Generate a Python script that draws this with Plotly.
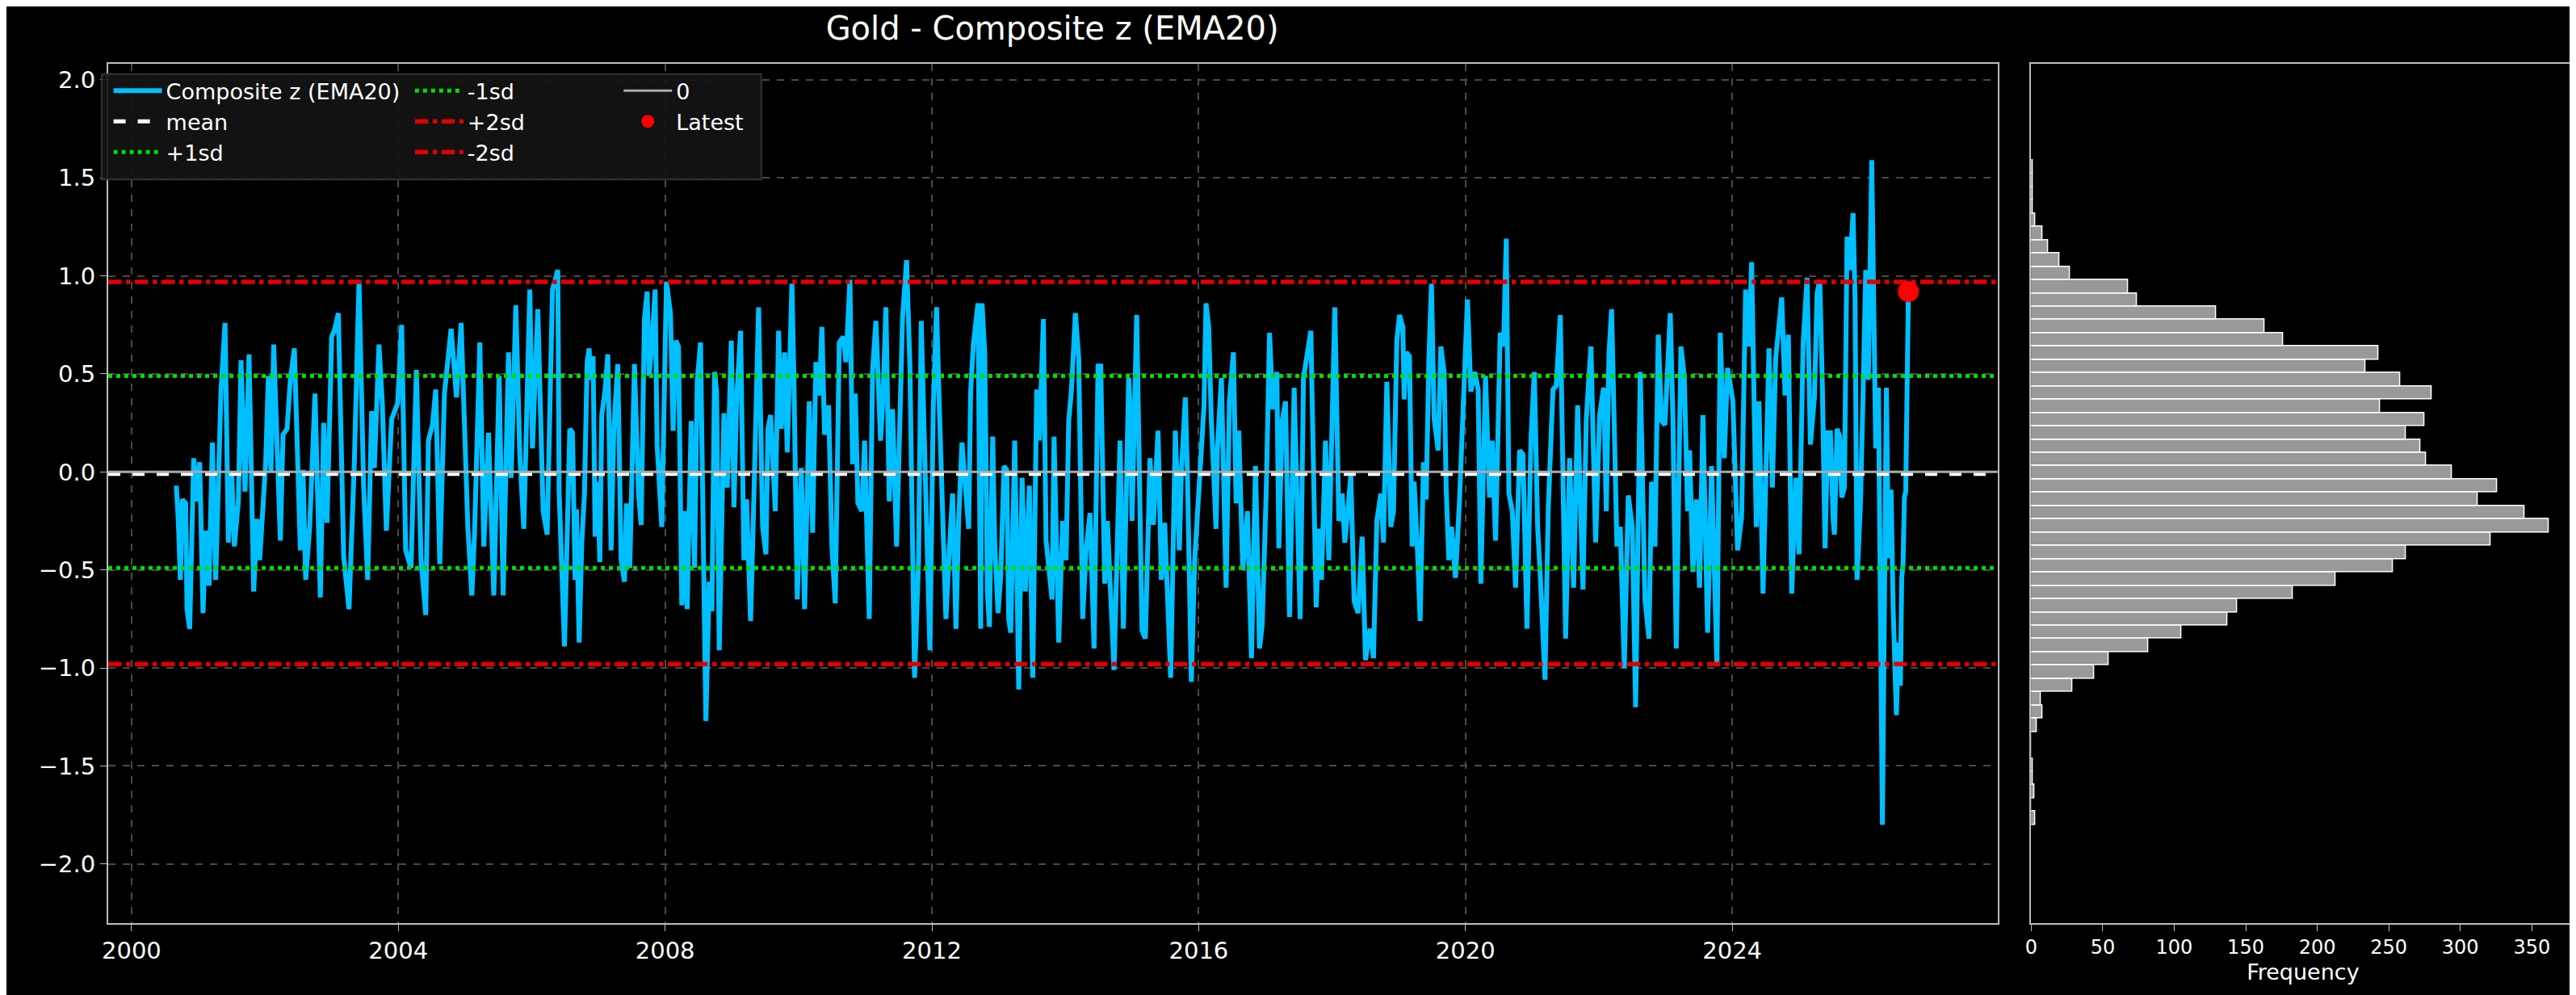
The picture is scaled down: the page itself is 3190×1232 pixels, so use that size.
import numpy as np
import pandas as pd
import plotly.graph_objects as go

# ---------------- data ----------------
years_a = [2000.67,2000.70,2000.73,2000.76,2000.81,2000.83,2000.87,2000.93,2000.98,2001.02,2001.07,2001.11,2001.16,2001.21,2001.26,2001.34,2001.40,2001.45,2001.50,2001.54,2001.60,2001.64,2001.70,2001.76,2001.83,2001.88,2001.92,2002.01,2002.05,2002.09,2002.13,2002.23,2002.27,2002.33,2002.38,2002.44,2002.53,2002.57,2002.61,2002.67,2002.75,2002.83,2002.88,2002.93,2003.00,2003.04,2003.10,2003.18,2003.26,2003.34,2003.41,2003.48,2003.54,2003.60,2003.64,2003.71,2003.76,2003.82,2003.90,2003.99,2004.05,2004.11,2004.19,2004.27,2004.34,2004.41,2004.45,2004.51,2004.56,2004.62,2004.69,2004.79,2004.87,2004.94,2005.04,2005.10,2005.14,2005.22,2005.28,2005.35,2005.43,2005.51,2005.57,2005.65,2005.69,2005.76,2005.82,2005.88,2005.97,2006.01,2006.09,2006.17,2006.23,2006.31,2006.39,2006.41,2006.49]
z_a = [-0.07,-0.25,-0.55,-0.14,-0.16,-0.70,-0.80,0.07,-0.15,0.05,-0.72,-0.30,-0.58,0.15,-0.55,0.42,0.76,-0.36,0.00,-0.38,-0.15,0.57,-0.10,0.60,-0.61,-0.24,-0.45,0.05,0.49,0.00,0.65,-0.35,0.19,0.22,0.47,0.63,-0.40,0.01,-0.55,-0.28,0.40,-0.64,0.25,-0.26,0.69,0.72,0.81,-0.43,-0.70,0.05,0.97,-0.08,-0.55,0.31,0.02,0.65,0.35,-0.30,0.27,0.35,0.75,-0.40,-0.49,0.52,-0.45,-0.73,0.16,0.24,0.42,-0.47,0.40,0.73,0.38,0.76,-0.28,-0.63,-0.32,0.66,-0.38,0.20,-0.63,0.49,-0.63,0.61,-0.03,0.85,0.09,-0.29,0.93,0.12,0.83,-0.20,-0.32,0.93,1.03,-0.10,-0.89]
years_b = [2006.57,2006.61,2006.65,2006.67,2006.71,2006.75,2006.79,2006.83,2006.86,2006.88,2006.92,2006.95,2006.99,2007.02,2007.05,2007.10,2007.14,2007.19,2007.23,2007.29,2007.34,2007.39,2007.42,2007.47,2007.54,2007.60,2007.64,2007.69,2007.73,2007.76,2007.80,2007.85,2007.88,2007.95,2008.02,2008.08,2008.12,2008.16,2008.20,2008.25,2008.30,2008.33,2008.39,2008.44,2008.48,2008.53,2008.61,2008.66,2008.70,2008.74,2008.77,2008.81,2008.88,2008.93,2008.99,2009.03,2009.07,2009.13,2009.18,2009.22,2009.28,2009.32,2009.40,2009.46,2009.51,2009.54,2009.58,2009.65,2009.70,2009.74,2009.79,2009.83,2009.87,2009.90,2009.93,2009.98,2010.04,2010.09,2010.16,2010.21,2010.26,2010.31,2010.35,2010.39,2010.45,2010.50,2010.55,2010.61,2010.67,2010.71,2010.77,2010.81,2010.85,2010.89,2010.95,2010.99,2011.06,2011.11,2011.16,2011.23,2011.27,2011.31,2011.36,2011.41,2011.47,2011.56,2011.62,2011.67,2011.74,2011.80,2011.84,2011.90,2011.97,2012.02,2012.07,2012.11,2012.16,2012.21,2012.26,2012.31,2012.36,2012.40,2012.45,2012.55,2012.58,2012.62,2012.69,2012.71,2012.73]
z_b = [0.22,0.20,-0.55,-0.19,-0.87,-0.36,-0.11,0.56,0.63,0.47,0.59,-0.33,-0.05,-0.46,0.29,0.42,0.60,-0.40,0.22,0.55,-0.45,-0.56,-0.16,-0.49,0.55,-0.11,-0.27,0.78,0.92,0.49,0.64,0.93,0.14,-0.28,0.97,0.81,0.21,0.67,0.64,-0.68,-0.20,-0.70,0.26,-0.49,0.46,0.66,-1.27,-0.56,-0.71,0.51,0.41,-0.91,0.30,-0.08,0.67,-0.18,0.37,0.72,-0.45,-0.14,-0.76,-0.25,0.84,-0.28,-0.42,0.22,0.29,-0.20,0.72,0.22,0.61,0.10,0.59,0.96,0.47,-0.65,0.02,-0.70,0.36,-0.31,0.56,0.39,0.74,0.19,0.34,-0.38,-0.67,0.66,0.69,0.56,0.98,0.04,0.40,-0.16,-0.20,0.16,-0.75,0.52,0.77,0.16,0.41,0.84,-0.15,0.32,-0.38,0.79,1.08,0.54,-1.05,-0.45,0.77,-0.08,-0.91,0.32,0.84,0.34,-0.28,-0.75,-0.40,-0.11,-0.80,-0.25,0.15,-0.29,0.41,0.65,0.86,0.22,-0.80]
years_c = [2012.75,2012.79,2012.81,2012.83,2012.86,2012.91,2012.94,2012.99,2013.03,2013.08,2013.12,2013.15,2013.18,2013.24,2013.27,2013.30,2013.35,2013.40,2013.46,2013.51,2013.57,2013.61,2013.67,2013.71,2013.80,2013.83,2013.90,2013.96,2014.01,2014.05,2014.09,2014.15,2014.20,2014.26,2014.31,2014.37,2014.43,2014.49,2014.53,2014.59,2014.63,2014.67,2014.73,2014.82,2014.87,2014.95,2014.98,2015.00,2015.07,2015.15,2015.20,2015.27,2015.32,2015.39,2015.44,2015.49,2015.54,2015.58,2015.65,2015.71,2015.74,2015.80,2015.83,2015.89,2015.94,2015.99,2016.05,2016.08,2016.11,2016.15,2016.19,2016.26,2016.28,2016.34,2016.41,2016.46,2016.52,2016.56,2016.60,2016.66,2016.73,2016.79,2016.85,2016.91,2016.95,2017.01,2017.06,2017.11,2017.17,2017.20,2017.25,2017.30,2017.36,2017.43,2017.52,2017.57,2017.63,2017.68,2017.76,2017.80,2017.84,2017.90,2017.95,2018.00,2018.04,2018.10,2018.15,2018.19,2018.28,2018.33,2018.39,2018.45,2018.50,2018.57,2018.62,2018.67,2018.73,2018.77,2018.82,2018.88,2018.92,2018.97]
z_c = [0.86,0.61,0.06,-0.61,-0.79,0.18,-0.36,-0.72,-0.53,0.03,0.01,-0.75,-0.82,0.16,-0.45,-1.11,-0.03,-0.61,-0.07,-1.05,0.42,0.16,0.78,-0.35,-0.65,0.18,-0.87,-0.25,-0.45,0.26,0.41,0.81,0.58,-0.75,-0.40,-0.21,-0.90,0.54,0.54,-0.57,-0.25,-0.60,-1.01,0.16,-0.80,0.48,0.26,-0.25,0.80,-0.81,-0.85,0.07,-0.27,0.21,-0.55,-0.26,-0.65,-1.05,0.21,-0.40,0.00,0.38,0.00,-1.07,-0.45,-0.18,0.10,0.34,0.86,0.74,0.26,-0.29,0.12,0.48,-0.59,0.36,0.61,-0.16,0.21,-0.50,-0.20,-0.95,0.03,-0.90,-0.78,-0.11,0.71,0.32,0.51,-0.39,0.26,0.36,-0.74,0.43,-0.75,0.48,0.61,0.72,-0.69,-0.29,-0.55,0.16,-0.45,0.19,0.84,-0.25,-0.11,-0.36,-0.02,-0.66,-0.72,-0.33,-0.96,-0.80,-0.95,-0.25,-0.11,-0.36,0.46,-0.28,-0.20,0.67]
years_d = [2019.01,2019.06,2019.08,2019.11,2019.16,2019.20,2019.23,2019.28,2019.32,2019.37,2019.41,2019.45,2019.49,2019.53,2019.59,2019.63,2019.68,2019.71,2019.75,2019.79,2019.85,2019.91,2019.96,2020.03,2020.08,2020.14,2020.19,2020.23,2020.30,2020.36,2020.40,2020.45,2020.52,2020.57,2020.61,2020.65,2020.70,2020.75,2020.81,2020.86,2020.92,2020.98,2021.03,2021.08,2021.12,2021.19,2021.24,2021.31,2021.36,2021.42,2021.50,2021.56,2021.62,2021.68,2021.76,2021.81,2021.88,2021.95,2022.01,2022.07,2022.11,2022.15,2022.19,2022.27,2022.32,2022.38,2022.44,2022.50,2022.55,2022.62,2022.69,2022.75,2022.79,2022.84,2022.89,2022.94,2022.99,2023.07,2023.11,2023.16,2023.23,2023.28,2023.33,2023.36,2023.41,2023.46,2023.51,2023.56,2023.63,2023.69,2023.77,2023.82,2023.88,2023.93,2024.01,2024.08,2024.14,2024.20,2024.25,2024.29,2024.36,2024.40,2024.46,2024.55,2024.60,2024.65,2024.74,2024.79,2024.84,2024.89,2024.95,2025.00,2025.06,2025.12,2025.17]
z_d = [0.80,0.74,0.37,0.61,0.59,-0.38,-0.05,-0.40,-0.76,0.05,-0.14,0.56,0.96,0.27,0.11,0.64,0.51,-0.08,-0.45,-0.28,-0.54,-0.15,0.26,0.88,0.41,0.51,0.42,-0.57,0.49,-0.13,0.16,-0.35,0.71,0.64,1.19,-0.11,-0.20,-0.59,0.11,0.09,-0.80,0.17,0.51,-0.28,-0.53,-1.06,-0.18,0.42,0.44,0.80,-0.85,0.07,-0.59,0.34,-0.60,0.27,0.64,-0.36,0.29,0.43,-0.20,0.60,0.83,-0.38,-0.28,-1.00,-0.12,-0.28,-1.20,0.51,-0.65,-0.85,-0.05,-0.38,0.70,0.26,0.24,0.81,0.27,-0.90,0.64,0.49,-0.20,0.11,-0.51,-0.14,-0.59,0.29,-0.82,0.03,-0.99,0.71,0.07,0.53,0.36,-0.40,-0.23,0.93,0.64,1.07,-0.28,0.36,-0.62,0.63,-0.08,0.58,0.89,0.39,0.70,-0.62,-0.03,-0.42,0.65,0.99,0.14]
years_e = [2025.23,2025.27,2025.31,2025.35,2025.39,2025.43,2025.47,2025.51,2025.53,2025.57,2025.61,2025.64,2025.68,2025.72,2025.76,2025.81,2025.84,2025.87,2025.92,2025.96,2026.00,2026.04,2026.09,2026.15,2026.19,2026.25,2026.31,2026.34,2026.38,2026.41,2026.46,2026.49,2026.52,2026.54,2026.56,2026.58,2026.60,2026.64]
z_e = [0.38,0.91,0.98,0.43,-0.39,0.20,0.20,-0.24,-0.32,0.22,0.18,-0.13,-0.08,1.20,1.03,1.32,0.87,-0.55,-0.17,0.40,1.03,0.47,1.59,0.12,0.43,-1.80,0.43,-0.44,-0.09,-0.68,-1.24,-0.87,-1.09,-0.54,-0.47,-0.13,-0.10,0.92]

years = years_a + years_b + years_c + years_d + years_e
z_ema20 = z_a + z_b + z_c + z_d + z_e

# histogram counts, bins from highest to lowest value
hist_counts_top_down = [1,1,1,1,3,8,12,20,27,68,74,129,163,176,243,234,258,280,244,275,262,272,276,294,326,312,345,362,321,262,253,213,183,144,137,105,82,54,44,29,7,8,4,0,0,1,1,2,0,3]

mean_val, sd1_up, sd1_dn, sd2_up, sd2_dn = -0.01, 0.49, -0.49, 0.97, -0.98

# ---------------- helpers ----------------
def dec_to_dt(y):
    yr = int(np.floor(y))
    start = pd.Timestamp(year=yr, month=1, day=1)
    end = pd.Timestamp(year=yr + 1, month=1, day=1)
    return start + (end - start) * (y - yr)

dates = [dec_to_dt(y) for y in years]
x0, x1 = dec_to_dt(1999.65), dec_to_dt(2027.98)

counts = hist_counts_top_down[::-1]
edges = np.linspace(min(z_ema20), max(z_ema20), len(counts) + 1)
centers = (edges[:-1] + edges[1:]) / 2
bw = edges[1] - edges[0]

FONT = "DejaVu Sans"
GRID = dict(showgrid=True, gridcolor="#4a4a4a", griddash="dash", gridwidth=2)
LINE = dict(showline=True, linecolor="#bdbdbd", linewidth=2, mirror=True)

fig = go.Figure()

fig.add_trace(go.Scatter(x=dates, y=z_ema20, mode="lines", name="Composite z (EMA20)",
                         line=dict(color="#00BFFF", width=6), legend="legend"))
def hline(v, name, color, dash, width, leg):
    fig.add_trace(go.Scatter(x=[x0, x1], y=[v, v], mode="lines", name=name,
                             line=dict(color=color, dash=dash, width=width), legend=leg))
hline(mean_val, "mean", "white", "dash", 5, "legend")
hline(sd1_up, "+1sd", "#00dd00", "dot", 5, "legend")
hline(sd1_dn, "-1sd", "#00dd00", "dot", 5, "legend2")
hline(sd2_up, "+2sd", "#e00000", "dashdot", 5.5, "legend2")
hline(sd2_dn, "-2sd", "#e00000", "dashdot", 5.5, "legend2")
hline(0, "0", "#aaaaaa", "solid", 3, "legend3")
fig.add_trace(go.Scatter(x=[dates[-1]], y=[z_ema20[-1]], mode="markers", name="Latest",
                         marker=dict(color="#ff0000", size=26), legend="legend3"))

fig.add_trace(go.Bar(x=counts, y=centers, width=bw, orientation="h", xaxis="x2", yaxis="y2",
                     marker=dict(color="#999999", line=dict(color="white", width=1.5)),
                     showlegend=False))

leg_common = dict(bgcolor="rgba(0,0,0,0)", font=dict(family=FONT, size=27, color="white"),
                  xref="paper", yref="paper", xanchor="left", yanchor="top",
                  tracegroupgap=0, itemwidth=60)
fig.update_layout(
    width=3190, height=1232, paper_bgcolor="black", plot_bgcolor="black",
    margin=dict(l=0, r=0, t=0, b=0),
    font=dict(family=FONT, color="white", size=28),
    title=dict(text="Gold - Composite z (EMA20)", x=0.406, xanchor="center", y=0.978, yanchor="middle",
               font=dict(family=FONT, size=40, color="white")),
    xaxis=dict(domain=[0.0395, 0.773], range=[x0, x1], tickvals=[dec_to_dt(y) for y in range(2000, 2028, 4)],
               ticktext=[str(y) for y in range(2000, 2028, 4)], ticks="outside", ticklen=8, tickcolor="#bdbdbd",
               tickfont=dict(size=29), zeroline=False, automargin=False, **GRID, **LINE),
    yaxis=dict(domain=[0.079, 0.942], range=[-2.3, 2.08], tickvals=[-2, -1.5, -1, -0.5, 0, 0.5, 1, 1.5, 2],
               ticktext=["−2.0", "−1.5", "−1.0", "−0.5", "0.0", "0.5", "1.0", "1.5", "2.0"],
               ticks="outside", ticklen=8, tickcolor="#bdbdbd", tickfont=dict(size=29),
               zeroline=False, automargin=False, **GRID, **LINE),
    xaxis2=dict(domain=[0.786, 0.997], anchor="y2", range=[0, 380], tickvals=list(range(0, 351, 50)),
                ticks="outside", ticklen=8, tickcolor="#bdbdbd", tickfont=dict(size=24),
                title=dict(text="Frequency", font=dict(size=27), standoff=8),
                showgrid=False, zeroline=False, automargin=False, **LINE),
    yaxis2=dict(domain=[0.079, 0.942], anchor="x2", range=[-2.3, 2.08], showticklabels=False,
                ticks="", showgrid=False, zeroline=False, automargin=False, **LINE),
    bargap=0,
    legend=dict(x=0.040, y=0.935, **leg_common),
    legend2=dict(x=0.157, y=0.935, **leg_common),
    legend3=dict(x=0.238, y=0.935, **leg_common),
    shapes=[dict(type="rect", xref="paper", yref="paper", x0=0.037, x1=0.293, y0=0.826, y1=0.932,
                 fillcolor="rgba(20,20,20,0.9)", line=dict(color="#333333", width=2), layer="above")],
)
fig.write_html("out.html")
